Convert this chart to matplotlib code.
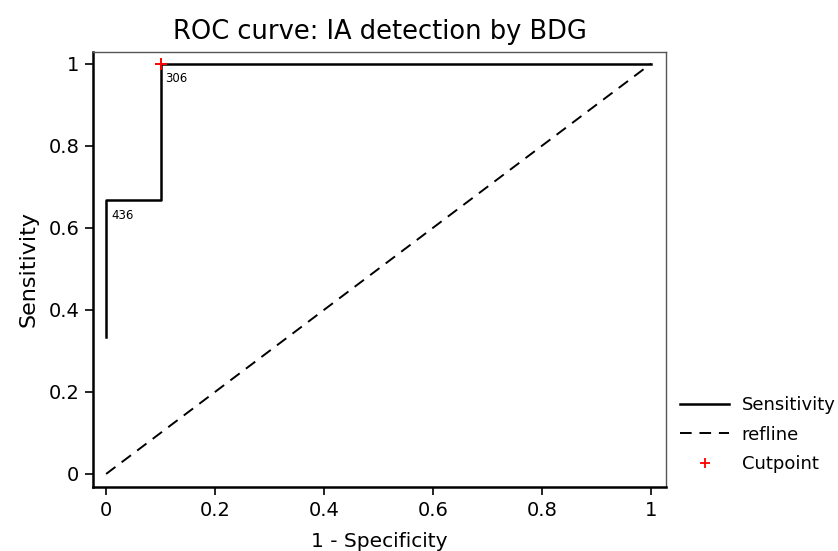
import matplotlib
matplotlib.use("Agg")
import matplotlib.pyplot as plt
from matplotlib.lines import Line2D

# ROC points
fpr = [0, 0, 0.1, 0.1, 1]
tpr = [1 / 3, 2 / 3, 2 / 3, 1, 1]
ref_x = [0, 1]
ref_y = [0, 1]
cut_x = [0.1]
cut_y = [1]
cut_labels = ["436", "306"]
cut_label_pos = [(0, 2 / 3), (0.1, 1)]
ticks = [0, 0.2, 0.4, 0.6, 0.8, 1]
tick_labels = ["0", "0.2", "0.4", "0.6", "0.8", "1"]

plt.rcParams['font.family'] = ['DejaVu Sans']

fig = plt.figure(figsize=(8.38, 5.51), dpi=100, facecolor='white')
ax = fig.add_axes([0.111, 0.116, 0.684, 0.790])

ax.plot(fpr, tpr, color='black', lw=1.8, label='Sensitivity')
ax.plot(ref_x, ref_y, color='black', lw=1.4, ls=(0, (6, 4)), label='refline')
ax.plot(cut_x, cut_y, ls='none', marker='+', color='red', ms=8, mew=1.4, label='Cutpoint')

# cutpoint labels next to the ROC corners
for txt, (x, y) in zip(cut_labels, cut_label_pos):
    ax.annotate(txt, (x, y), xytext=(3.5, -6), textcoords='offset points',
                ha='left', va='top', fontsize=8.5)

ax.set_xlim(-0.024, 1.028)
ax.set_ylim(-0.032, 1.029)
ax.set_xticks(ticks)
ax.set_xticklabels(tick_labels)
ax.set_yticks(ticks)
ax.set_yticklabels(tick_labels)
ax.tick_params(direction='out', length=6, width=1.2, labelsize=14, pad=4)

for side in ['left', 'bottom']:
    ax.spines[side].set_linewidth(1.8)
    ax.spines[side].set_color('black')
for side in ['top', 'right']:
    ax.spines[side].set_linewidth(1.0)
    ax.spines[side].set_color('#555555')

ax.set_xlabel('1 - Specificity', fontsize=14.5, labelpad=9)
ax.set_ylabel('Sensitivity', fontsize=16, labelpad=7)
ax.set_title('ROC curve: IA detection by BDG', fontsize=18.5, pad=9)

handles = [
    Line2D([], [], color='black', lw=1.8),
    Line2D([], [], color='black', lw=1.4, ls=(0, (6, 4))),
    Line2D([], [], ls='none', marker='+', color='red', ms=7, mew=1.3),
]
fig.legend(handles, ['Sensitivity', 'refline', 'Cutpoint'],
           loc='center left', bbox_to_anchor=(0.812, 0.211),
           frameon=False, fontsize=13, handlelength=2.7, handletextpad=0.7,
           labelspacing=0.65, borderpad=0, borderaxespad=0)

fig.savefig('out.png', dpi=100)
